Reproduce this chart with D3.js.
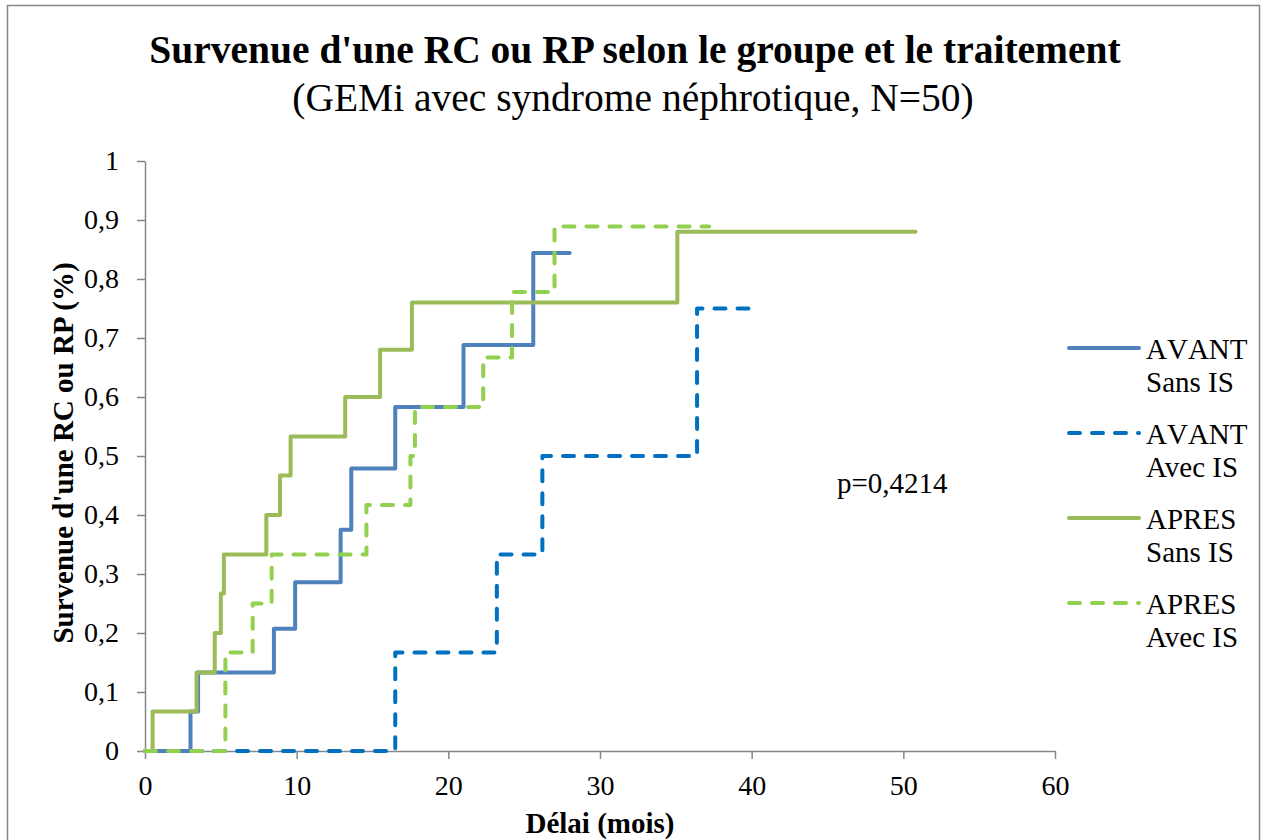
<!DOCTYPE html>
<html>
  <head>
    <meta charset="utf-8">
    <title></title>
    <script type="text/javascript" src="https://d3js.org/d3.v7.min.js"></script>
    <style>
      body { margin: 0; background: #fff; }
    </style>
  </head>
  <body>

    <script type="text/javascript">

      // temps (mois) et survie cumulée, une paire de listes par courbe
      var avantSansT = [0, 3.0, 3.5, 8.5, 9.9, 12.9, 13.6, 16.5, 21.0, 25.6, 28.0];
      var avantSansV = [0, 0.067, 0.133, 0.207, 0.286, 0.375, 0.479, 0.583, 0.688, 0.844, 0.844];

      var avantAvecT = [0, 16.5, 23.2, 26.2, 36.4, 39.8];
      var avantAvecV = [0, 0.167, 0.333, 0.5, 0.75, 0.75];

      var apresSansT = [0, 0.5, 3.4, 4.6, 5.0, 5.2, 8.0, 8.9, 9.6, 13.2, 15.5, 17.6, 35.1, 50.8];
      var apresSansV = [0, 0.067, 0.133, 0.2, 0.267, 0.333, 0.4, 0.467, 0.533, 0.6, 0.68, 0.76, 0.88, 0.88];

      var apresAvecT = [0, 5.3, 7.1, 8.35, 14.6, 17.5, 17.8, 22.3, 24.2, 27.0, 37.2];
      var apresAvecV = [0, 0.167, 0.25, 0.333, 0.417, 0.5, 0.583, 0.667, 0.778, 0.889, 0.889];

      var seriesNames = [["AVANT", "Sans IS"], ["AVANT", "Avec IS"], ["APRES", "Sans IS"], ["APRES", "Avec IS"]];
      var seriesColors = ["#4F81BD", "#0070C0", "#9BBB59", "#92D050"];
      var seriesDashed = [false, true, false, true];

      var xTicks = [0, 10, 20, 30, 40, 50, 60];
      var yTicks = [0, 0.1, 0.2, 0.3, 0.4, 0.5, 0.6, 0.7, 0.8, 0.9, 1];

      var w = 1263;
      var h = 840;
      var serif = '"Liberation Serif", "Times New Roman", Times, serif';

      var allT = [avantSansT, avantAvecT, apresSansT, apresAvecT];
      var allV = [avantSansV, avantAvecV, apresSansV, apresAvecV];

      var series = [];
      for (var i = 0; i < allT.length; i++) {
        var pts = [];
        for (var j = 0; j < allT[i].length; j++) {
          pts.push({t: allT[i][j], v: allV[i][j]});
        }
        series.push({name: seriesNames[i], color: seriesColors[i], dashed: seriesDashed[i], pts: pts});
      }

      var xscale = d3.scaleLinear()
        .domain([0, 60])
        .range([145, 1055]);

      var yscale = d3.scaleLinear()
        .domain([0, 1])
        .range([751, 161]);

      var svg = d3.select('body')
        .append('svg')
        .attr('width', w)
        .attr('height', h);

      svg.append('rect')
        .attr('x', 7.5)
        .attr('y', 5.5)
        .attr('width', 1252)
        .attr('height', 850)
        .attr('fill', '#fff')
        .attr('stroke', '#868686')
        .attr('stroke-width', 1.5);

      var fmt = function(d) { return String(d).replace('.', ','); };

      var yAxis = d3.axisLeft(yscale)
        .tickValues(yTicks)
        .tickSize(8)
        .tickSizeOuter(0)
        .tickPadding(18)
        .tickFormat(fmt);

      var xAxis = d3.axisBottom(xscale)
        .tickValues(xTicks)
        .tickSize(8)
        .tickSizeOuter(0)
        .tickPadding(16)
        .tickFormat(fmt);

      svg.append('g')
        .attr('class', 'y axis')
        .attr('transform', 'translate(145,0)')
        .call(yAxis);

      svg.append('g')
        .attr('class', 'x axis')
        .attr('transform', 'translate(0,751)')
        .call(xAxis);

      svg.selectAll('.axis path, .axis line')
        .attr('stroke', '#868686')
        .attr('stroke-width', 1.5);
      svg.selectAll('.axis text')
        .style('font-family', serif)
        .style('font-size', '28px')
        .attr('fill', '#000');

      var line = d3.line()
        .curve(d3.curveStepAfter)
        .x(function(d) { return xscale(d.t); })
        .y(function(d) { return yscale(d.v); });

      svg.selectAll('path.km')
        .data(series)
        .enter()
        .append('path')
        .attr('class', 'km')
        .attr('d', function(d) { return line(d.pts); })
        .attr('fill', 'none')
        .attr('stroke', function(d) { return d.color; })
        .attr('stroke-width', 4)
        .attr('stroke-linecap', 'round')
        .attr('stroke-linejoin', 'round')
        .attr('stroke-dasharray', function(d) { return d.dashed ? '11,12' : null; });

      // légende
      var leg = svg.selectAll('g.leg')
        .data(series)
        .enter()
        .append('g')
        .attr('class', 'leg')
        .attr('transform', function(d, i) { return 'translate(0,' + (348 + i * 85) + ')'; });

      leg.append('line')
        .attr('x1', 1069)
        .attr('x2', 1139)
        .attr('stroke', function(d) { return d.color; })
        .attr('stroke-width', 4)
        .attr('stroke-linecap', 'round')
        .attr('stroke-dasharray', function(d) { return d.dashed ? '11,12' : null; });

      leg.append('text')
        .attr('x', 1146)
        .attr('y', 11)
        .style('font-family', serif)
        .style('font-size', '29px')
        .style('font-kerning', 'none')
        .text(function(d) { return d.name[0]; });

      leg.append('text')
        .attr('x', 1146)
        .attr('y', 44)
        .style('font-family', serif)
        .style('font-size', '29px')
        .text(function(d) { return d.name[1]; });

      svg.append('text')
        .attr('x', 837)
        .attr('y', 493)
        .style('font-family', serif)
        .style('font-size', '29px')
        .text('p=0,4214');

      svg.append('text')
        .attr('x', 635)
        .attr('y', 63)
        .attr('text-anchor', 'middle')
        .style('font-family', serif)
        .style('font-size', '39.5px')
        .style('font-weight', 'bold')
        .text("Survenue d'une RC ou RP selon le groupe et le traitement");

      svg.append('text')
        .attr('x', 633)
        .attr('y', 111)
        .attr('text-anchor', 'middle')
        .style('font-family', serif)
        .style('font-size', '39.5px')
        .text('(GEMi avec syndrome néphrotique, N=50)');

      svg.append("text")
        .attr("transform", "translate(73,453)rotate(-90)")
        .attr("text-anchor", "middle")
        .style('font-family', serif)
        .style('font-size', '29px')
        .style('font-weight', 'bold')
        .text("Survenue d'une RC ou RP (%)");

      svg.append('text')
        .attr('x', 600)
        .attr('y', 833)
        .attr('text-anchor', 'middle')
        .style('font-family', serif)
        .style('font-size', '29px')
        .style('font-weight', 'bold')
        .text('Délai (mois)');

    </script>

  </body>
</html>
